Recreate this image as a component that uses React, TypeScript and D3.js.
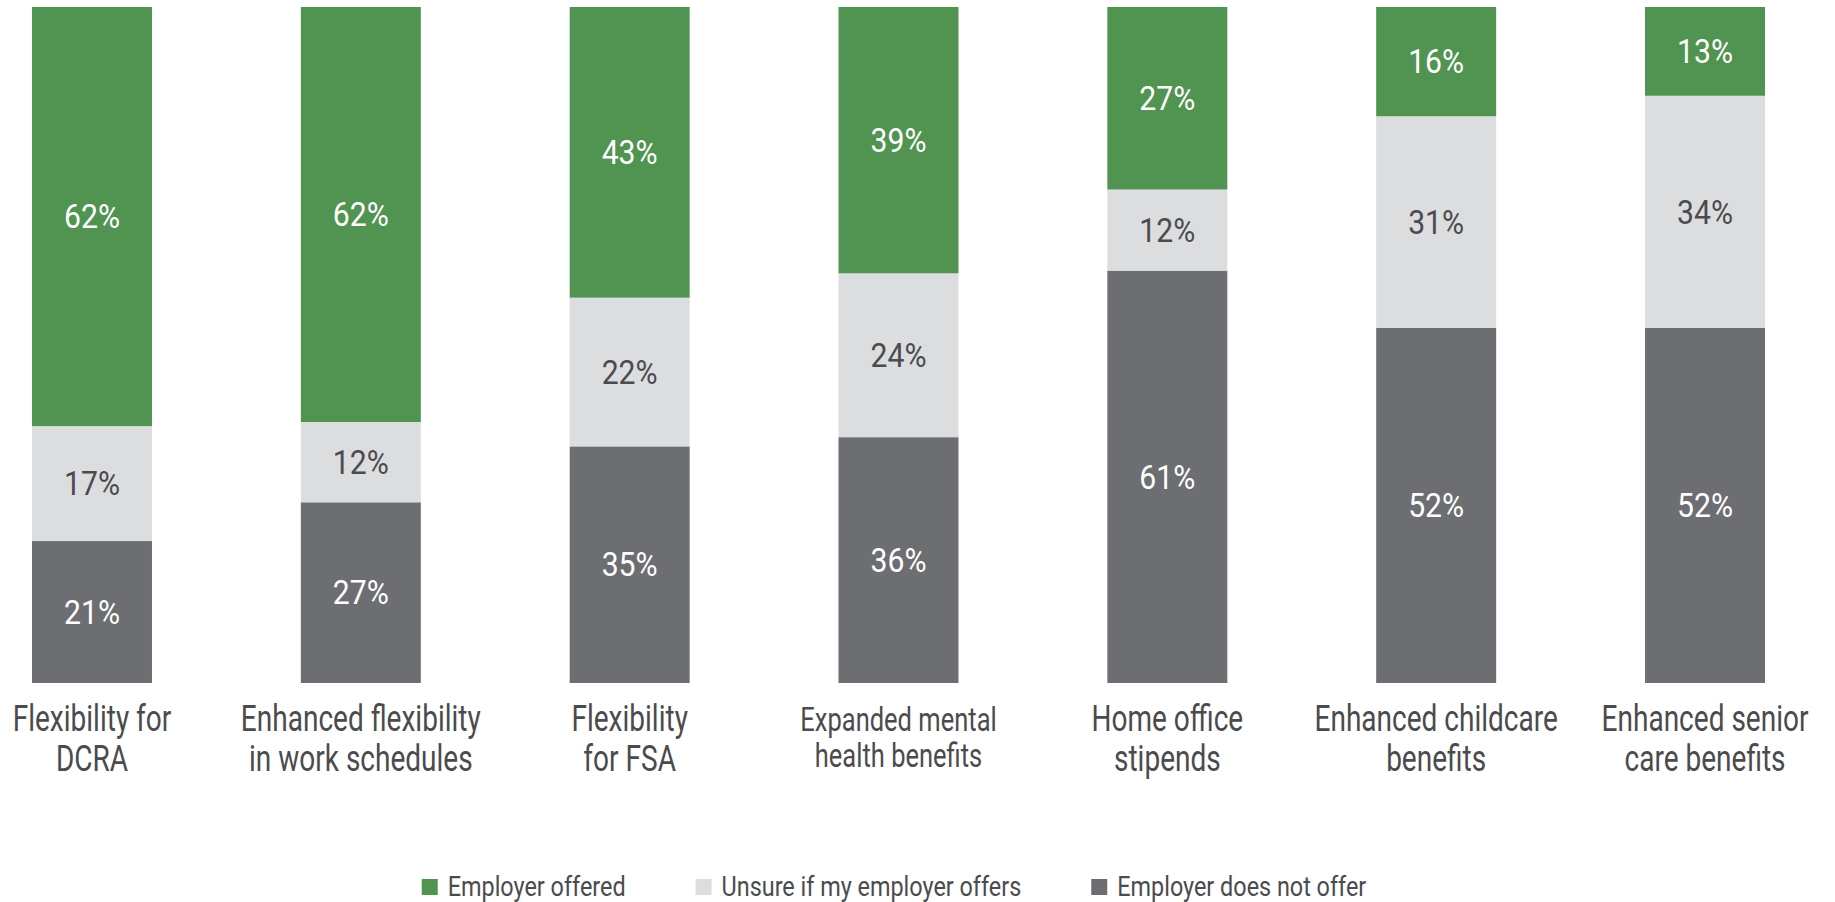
import React, { useEffect, useRef } from "react";
import * as d3 from "d3";

const categories = [
  "Flexibility for DCRA",
  "Enhanced flexibility in work schedules",
  "Flexibility for FSA",
  "Expanded mental health benefits",
  "Home office stipends",
  "Enhanced childcare benefits",
  "Enhanced senior care benefits",
];
const categoryLines = [
  ["Flexibility for", "DCRA"],
  ["Enhanced flexibility", "in work schedules"],
  ["Flexibility", "for FSA"],
  ["Expanded mental", "health benefits"],
  ["Home office", "stipends"],
  ["Enhanced childcare", "benefits"],
  ["Enhanced senior", "care benefits"],
];
const employerOffered = [62, 62, 43, 39, 27, 16, 13];
const unsure = [17, 12, 22, 24, 12, 31, 34];
const notOffered = [21, 27, 35, 36, 61, 52, 52];
const seriesNames = ["Employer offered", "Unsure if my employer offers", "Employer does not offer"];

const W = 1835;
const H = 902;
const FONT = "Roboto, 'Noto Sans', sans-serif";
const COLORS: Record<string, string> = {
  offered: "#519350",
  unsure: "#dcdddf",
  not: "#6d6e72",
};
const TEXT_ON: Record<string, string> = {
  offered: "#ffffff",
  unsure: "#4b4b4e",
  not: "#ffffff",
};
const LABEL_SCALE: Record<string, number> = { "Expanded mental health benefits": 0.91 };

export default function App() {
  const ref = useRef<SVGSVGElement | null>(null);
  useEffect(() => {
    const svg = d3.select(ref.current);
    svg.selectAll("*").remove();

    const measure = (s: string, size: number) => {
      const t = svg.append("text").attr("font-family", FONT).attr("font-size", size).text(s);
      const w = (t.node() as SVGTextElement).getComputedTextLength();
      t.remove();
      return w;
    };
    const VAL_SIZE = 33;
    const CAT_SIZE = 37;
    const LEG_SIZE = 27;
    const sxVal = 56 / measure("62%", VAL_SIZE);
    const sxCat = 240 / measure("Enhanced flexibility", CAT_SIZE);
    const sxLeg = 178 / measure("Employer offered", LEG_SIZE);

    const rows = categories.map((c, i) => ({
      cat: c,
      offered: employerOffered[i],
      unsure: unsure[i],
      not: notOffered[i],
    }));
    const keys = ["not", "unsure", "offered"];
    const stack = d3.stack<any>().keys(keys).offset(d3.stackOffsetExpand);
    const series = stack(rows);

    const x = d3.scaleBand().domain(categories).range([32, 1765]).paddingInner(0.5537).paddingOuter(0);
    const y = d3.scaleLinear().domain([0, 1]).range([683, 7]);

    const g = svg.append("g");
    series.forEach((s) => {
      const key = s.key;
      const grp = g.append("g");
      grp
        .selectAll("rect")
        .data(s)
        .join("rect")
        .attr("x", (d: any) => x(d.data.cat)!)
        .attr("width", x.bandwidth())
        .attr("y", (d: any) => y(d[1]))
        .attr("height", (d: any) => y(d[0]) - y(d[1]))
        .attr("fill", COLORS[key]);
      grp
        .selectAll("text")
        .data(s)
        .join("text")
        .attr(
          "transform",
          (d: any) =>
            `translate(${x(d.data.cat)! + x.bandwidth() / 2},${(y(d[0]) + y(d[1])) / 2 + 0.711 * VAL_SIZE / 2}) scale(${sxVal},1)`
        )
        .attr("text-anchor", "middle")
        .attr("font-family", FONT)
        .attr("font-size", VAL_SIZE)
        .attr("fill", TEXT_ON[key])
        .text((d: any) => `${d.data[key]}%`);
    });

    // category labels
    categories.forEach((c, i) => {
      const sc = LABEL_SCALE[c] ?? 1;
      categoryLines[i].forEach((line, j) => {
        svg
          .append("text")
          .attr("transform", `translate(${x(c)! + x.bandwidth() / 2},${731 + j * 40 * sc}) scale(${sxCat},1)`)
          .attr("text-anchor", "middle")
          .attr("font-family", FONT)
          .attr("font-size", CAT_SIZE * sc)
          .attr("fill", "#4b4b4e")
          .text(line);
      });
    });

    // legend
    const legendKeys = ["offered", "unsure", "not"];
    const lg = svg.append("g");
    let cx = 0;
    legendKeys.forEach((k, i) => {
      const item = lg.append("g").attr("transform", `translate(${cx},0)`);
      item.append("rect").attr("x", 0).attr("y", 879).attr("width", 16).attr("height", 16).attr("fill", COLORS[k]);
      const t = item
        .append("text")
        .attr("transform", `translate(26,896) scale(${sxLeg},1)`)
        .attr("font-family", FONT)
        .attr("font-size", LEG_SIZE)
        .attr("fill", "#4b4b4e")
        .text(seriesNames[i]);
      const w = (t.node() as SVGTextElement).getComputedTextLength() * sxLeg;
      cx += 26 + w + 70;
    });
    const total = cx - 70;
    lg.attr("transform", `translate(${894 - total / 2},0)`);
  }, []);
  return (
    <svg
      ref={ref}
      width={W}
      height={H}
      style={{ position: "absolute", left: 0, top: 0, background: "#fff" }}
    />
  );
}
